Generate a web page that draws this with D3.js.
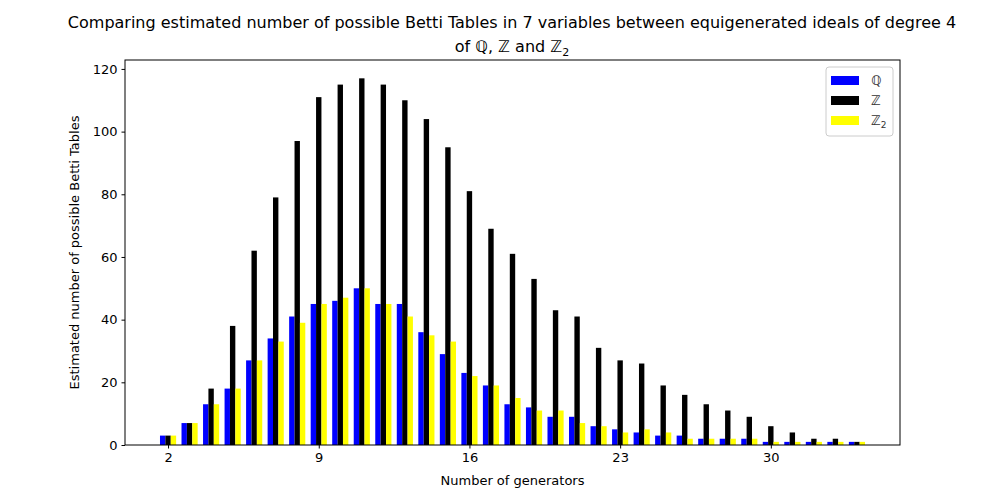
<!DOCTYPE html>
<html>
<head>
<meta charset="utf-8">
<script src="https://cdn.jsdelivr.net/npm/d3@7"></script>
<style>
  body { margin: 0; background: #fff; }
  text { font-family: "DejaVu Sans", sans-serif; }
</style>
</head>
<body>
<svg id="chart" width="1000" height="500"></svg>
<script>
const generators = d3.range(2, 35);
const qValues = [3, 7, 13, 18, 27, 34, 41, 45, 46, 50, 45, 45, 36, 29, 23, 19, 13, 12, 9, 9, 6, 5, 4, 3, 3, 2, 2, 2, 1, 1, 1, 1, 1];
const zValues = [3, 7, 18, 38, 62, 79, 97, 111, 115, 117, 115, 110, 104, 95, 81, 69, 61, 53, 43, 41, 31, 27, 26, 19, 16, 13, 11, 9, 6, 4, 2, 2, 1];
const z2Values = [3, 7, 13, 18, 27, 33, 39, 45, 47, 50, 45, 41, 35, 33, 22, 19, 15, 11, 11, 7, 6, 4, 5, 4, 2, 2, 2, 2, 1, 1, 1, 1, 1];
const xTicks = [2, 9, 16, 23, 30];
const yTicks = [0, 20, 40, 60, 80, 100, 120];

const series = [
  { name: "ℚ", values: qValues, color: "#0000ff", offset: -0.25 },
  { name: "ℤ", values: zValues, color: "#000000", offset: 0 },
  { name: "ℤ", sub: "2", values: z2Values, color: "#ffff00", offset: 0.25 },
];

const margin = { top: 60, right: 100, bottom: 55, left: 125 };
const width = 1000, height = 500;
const svg = d3.select("#chart");

const x = d3.scaleLinear().domain([0, 36]).range([margin.left, width - margin.right]);
const y = d3.scaleLinear().domain([0, 122.85]).range([height - margin.bottom, margin.top]);
const barW = x(0.25) - x(0);

series.forEach(s => {
  svg.append("g").selectAll("rect")
    .data(s.values)
    .enter()
    .append("rect")
    .attr("x", (d, i) => x(generators[i] + s.offset) - barW / 2)
    .attr("y", d => y(d))
    .attr("width", barW)
    .attr("height", d => y(0) - y(d))
    .attr("fill", s.color);
});

const xAxis = svg.append("g")
  .attr("transform", `translate(0, ${height - margin.bottom})`)
  .call(d3.axisBottom(x).tickValues(xTicks).tickSize(3.5).tickPadding(4));
const yAxis = svg.append("g")
  .attr("transform", `translate(${margin.left}, 0)`)
  .call(d3.axisLeft(y).tickValues(yTicks).tickSize(3.5).tickPadding(4));
[xAxis, yAxis].forEach(a => {
  a.select(".domain").remove();
  a.selectAll("text").attr("font-size", 13).attr("fill", "#000");
  a.selectAll("line").attr("stroke", "#000");
});

svg.append("rect")
  .attr("x", margin.left).attr("y", margin.top)
  .attr("width", width - margin.left - margin.right)
  .attr("height", height - margin.top - margin.bottom)
  .attr("fill", "none").attr("stroke", "#000").attr("stroke-width", 1);

svg.append("text").attr("x", (margin.left + width - margin.right) / 2).attr("y", 485)
  .attr("text-anchor", "middle").attr("font-size", 13).text("Number of generators");
svg.append("text")
  .attr("transform", `translate(79, ${(margin.top + height - margin.bottom) / 2}) rotate(-90)`)
  .attr("text-anchor", "middle").attr("font-size", 13).text("Estimated number of  possible Betti Tables");

svg.append("text").attr("x", 512).attr("y", 28).attr("text-anchor", "middle").attr("font-size", 16)
  .text("Comparing estimated number of possible Betti Tables in 7 variables between equigenerated ideals of degree 4");
const t2 = svg.append("text").attr("x", 512).attr("y", 52).attr("text-anchor", "middle").attr("font-size", 16);
t2.append("tspan").text("of ℚ, ℤ and  ℤ");
t2.append("tspan").attr("font-size", 11).attr("dy", 4).text("2");

const legend = svg.append("g").attr("transform", "translate(826, 67)");
legend.append("rect").attr("width", 67).attr("height", 69).attr("rx", 3)
  .attr("fill", "#fff").attr("stroke", "#ccc");
series.forEach((s, i) => {
  const gy = 13 + i * 20;
  legend.append("rect").attr("x", 5).attr("y", gy - 4).attr("width", 28).attr("height", 9).attr("fill", s.color);
  const t = legend.append("text").attr("x", 45).attr("y", gy + 5).attr("font-size", 13)
    .attr("fill", "#333").text(s.name);
  if (s.sub) t.append("tspan").attr("font-size", 9).attr("dy", 3).text(s.sub);
});
</script>
</body>
</html>
